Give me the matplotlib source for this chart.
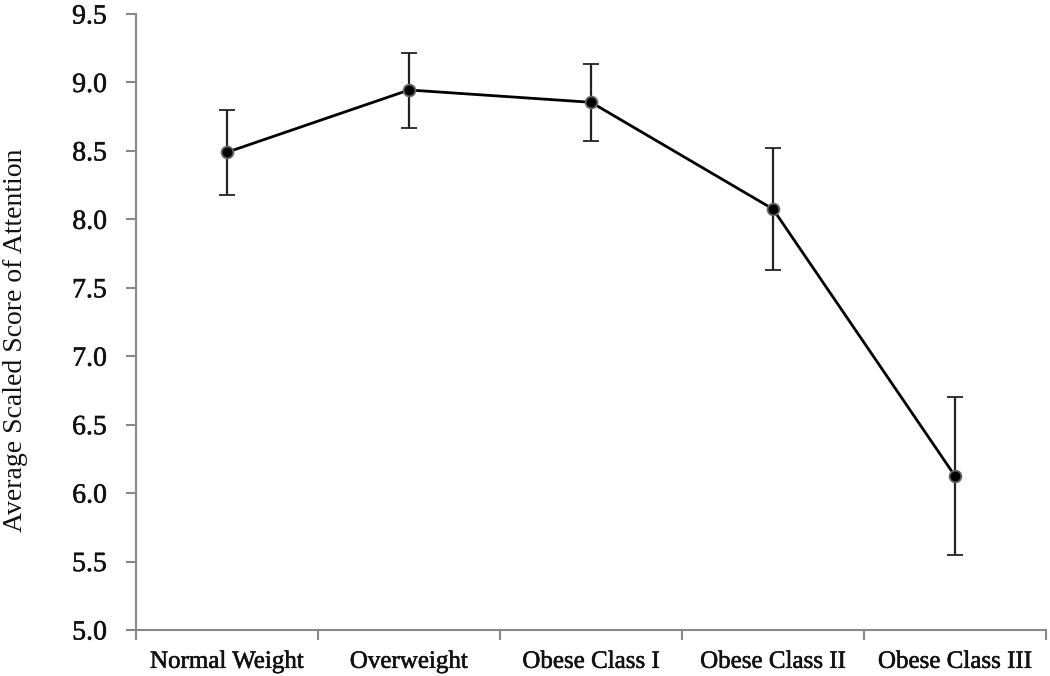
import matplotlib
matplotlib.use("Agg")
import matplotlib.pyplot as plt
import matplotlib.patheffects as pe
import numpy as np

categories = ["Normal Weight", "Overweight", "Obese Class I", "Obese Class II", "Obese Class III"]
means = [8.49, 8.945, 8.855, 8.075, 6.125]
lower = [8.18, 8.67, 8.57, 7.63, 5.545]
upper = [8.80, 9.215, 9.135, 8.52, 6.705]
yticks = [5.0, 5.5, 6.0, 6.5, 7.0, 7.5, 8.0, 8.5, 9.0, 9.5]

plt.rcParams['font.family'] = ['Liberation Serif', 'DejaVu Serif']

fig = plt.figure(figsize=(10.5, 6.76), dpi=100)
ax = fig.add_axes([136/1050, 46/676, 910/1050, 616/676])

x = np.arange(len(categories))
means_a = np.array(means)
yerr = np.vstack([means_a - np.array(lower), np.array(upper) - means_a])

ax.errorbar(x, means, yerr=yerr, color='black', ecolor='#222222', elinewidth=1.6,
            capsize=5.5, capthick=1.6, lw=2.0, marker='o', markersize=8.5,
            markerfacecolor='black', markeredgecolor='#666666', markeredgewidth=1.3, zorder=3)

ax.set_xlim(-0.5, len(categories) - 0.5)
ax.set_ylim(5.0, 9.5)
ax.set_yticks(yticks)
ax.set_yticklabels([f"{v:.1f}" for v in yticks], fontsize=20, color='#111111')

ax.set_xticks(x)
ax.set_xticklabels(categories, fontsize=18, color='#111111')
ax.tick_params(axis='x', which='major', length=0, pad=15)
ax.set_xticks(np.arange(-0.5, len(categories)), minor=True)
ax.tick_params(axis='x', which='minor', length=7, width=1.5, color='#888888', direction='out')
ax.tick_params(axis='y', length=7, width=1.5, color='#888888', direction='out', pad=14)

heavy = [pe.withStroke(linewidth=0.4, foreground='#111111')]
for lab in ax.get_xticklabels() + ax.get_yticklabels():
    lab.set_path_effects(heavy)

for s in ['top', 'right']:
    ax.spines[s].set_visible(False)
for s in ['left', 'bottom']:
    ax.spines[s].set_color('#888888')
    ax.spines[s].set_linewidth(1.5)

ax.set_ylabel("Average Scaled Score of Attention", fontsize=20, color='#111111')
ax.yaxis.set_label_coords(-0.119, 0.47)

fig.savefig("out.png", dpi=100)
